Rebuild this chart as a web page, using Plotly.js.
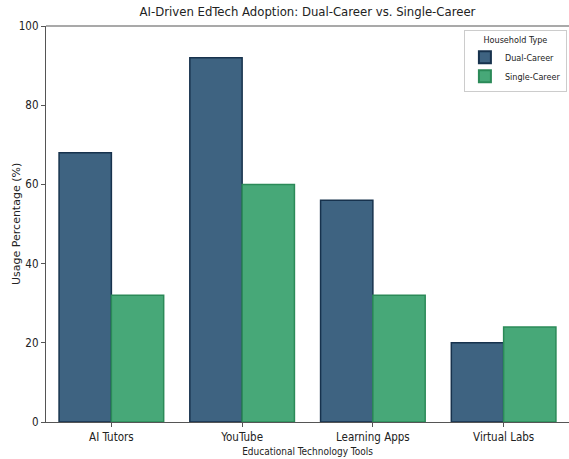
<!DOCTYPE html>
<html><head><meta charset="utf-8">
<script src="https://cdn.plot.ly/plotly-3.0.1.min.js"></script>
<style>body{margin:0;padding:0;background:#fff}#chart{width:569px;height:459px}</style>
</head><body><div id="chart"></div>
<script>
const categories = ["AI Tutors", "YouTube", "Learning Apps", "Virtual Labs"];
const dualCareer = [68, 92, 56, 20];
const singleCareer = [32, 60, 32, 24];
const seriesNames = ["Dual-Career", "Single-Career"];
const yTicks = [0, 20, 40, 60, 80, 100];

const FONT = "'Liberation Sans Narrow', 'Arial Narrow', 'DejaVu Sans Condensed', sans-serif";

const traces = [
  {type: "bar", name: seriesNames[0], x: categories, y: dualCareer,
   marker: {color: "#3e6381", line: {color: "#17324d", width: 1.5}}},
  {type: "bar", name: seriesNames[1], x: categories, y: singleCareer,
   marker: {color: "#47a878", line: {color: "#2b8a58", width: 1.5}}}
];

const layout = {
  width: 569, height: 459,
  margin: {l: 46, r: 0, t: 26, b: 37},
  paper_bgcolor: "#fff", plot_bgcolor: "#fff",
  font: {family: FONT, color: "#222", size: 11},
  title: {text: "AI-Driven EdTech Adoption: Dual-Career vs. Single-Career",
          font: {family: FONT, size: 13, color: "#222"},
          xref: "paper", x: 0.5, xanchor: "center", yref: "container", y: 0.974, yanchor: "middle"},
  barmode: "group", bargap: 0.2, bargroupgap: 0,
  xaxis: {type: "category", range: [-0.5, 3.5], showgrid: false, zeroline: false,
          showline: true, linecolor: "#555", linewidth: 1.2,
          ticks: "outside", ticklen: 4, tickcolor: "#555",
          tickfont: {family: FONT, size: 11.5, color: "#222"},
          title: {text: "Educational Technology Tools", font: {family: FONT, size: 10, color: "#222"}, standoff: 5}},
  yaxis: {range: [0, 100], tickvals: yTicks, showgrid: false, zeroline: false,
          showline: true, linecolor: "#555", linewidth: 1.2,
          ticks: "outside", ticklen: 4, tickcolor: "#555",
          tickfont: {family: FONT, size: 11.5, color: "#222"}},
  annotations: [{text: "Usage Percentage (%)", xref: "paper", yref: "paper",
                 x: -0.0574, y: 0.5, xanchor: "center", yanchor: "middle", textangle: -90,
                 showarrow: false, font: {family: "'DejaVu Sans', sans-serif", size: 11, color: "#222"}}],
  shapes: [{type: "line", xref: "paper", yref: "paper", x0: 0, x1: 1, y0: 1, y1: 1,
            line: {color: "#555", width: 1.2}}],
  legend: {x: 0.996, xanchor: "right", y: 0.99, yanchor: "top",
           bgcolor: "#fff", bordercolor: "#ccc", borderwidth: 1,
           font: {family: FONT, size: 9, color: "#222"},
           title: {text: "Household Type", side: "top center", font: {family: FONT, size: 9, color: "#222"}},
           tracegroupgap: 0, itemwidth: 30, itemsizing: "constant"}
};

Plotly.newPlot("chart", traces, layout, {displayModeBar: false, staticPlot: true});
</script></body></html>
